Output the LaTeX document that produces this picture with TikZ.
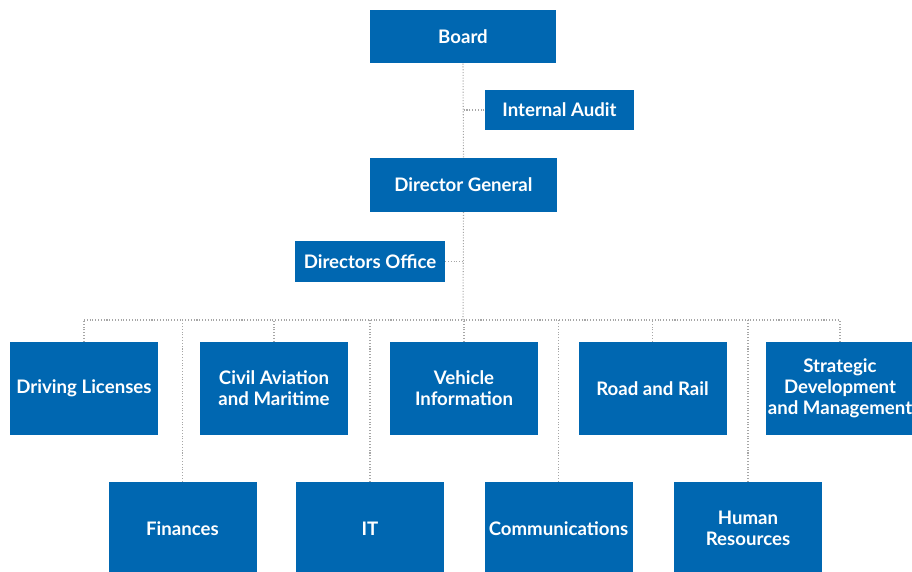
\documentclass[tikz,border=0pt]{standalone}
\usepackage{fontspec}
\setmainfont{Lato}
\usepackage{xcolor}
\usepackage{tikz}
\usetikzlibrary{
  positioning,
  calc
}

\definecolor{orgblue}{RGB}{0,103,177}

\begin{document}
\begin{tikzpicture}[
    font=\bfseries\fontsize{10.6}{12}\selectfont,
    unit/.style={fill=orgblue, text=white, inner sep=0pt,
                 align=center, minimum width=2.96cm, minimum height=1.86cm},
    head/.style={unit, minimum width=3.73cm, minimum height=1.07cm},
    staff/.style={unit, minimum width=2.99cm, minimum height=0.81cm},
    link/.style={densely dotted, gray!70, line width=0.6pt},
  ]

  \useasboundingbox (0,0) rectangle (18.24,-11.42);

  % Top of the chart
  \node[head] (board) at (9.26,-0.73) {Board};
  \node[staff] (audit) at (11.19,-2.20) {Internal Audit};
  \node[head] (dg) at (9.27,-3.70) {Director General};
  \node[staff] (office) at (7.40,-5.23) {Directors Office};

  % First row of departments
  \node[unit] (dl)  at (1.68,-7.77) {Driving Licenses};
  \node[unit] (cam) at (5.48,-7.77) {Civil Aviation\\and Maritime};
  \node[unit] (vi)  at (9.28,-7.77) {Vehicle\\Information};
  \node[unit] (rr)  at (13.05,-7.77) {Road and Rail};
  \node[unit] (sdm) at (16.80,-7.77) {Strategic\\Development\\and Management};

  % Second row of departments
  \node[unit] (fin) at (3.65,-10.57) {Finances};
  \node[unit] (it)  at (7.40,-10.57) {IT};
  \node[unit] (com) at (11.17,-10.57) {Communications};
  \node[unit] (hr)  at (14.96,-10.57) {Human\\Resources};

  % Dotted links
  \coordinate (bus) at (9.26,-6.40);
  \draw[link] (board.south) -- (dg.north);
  \draw[link] (dg.south) -- (bus);
  \draw[link] (audit.west) -- (audit.west -| board.south);
  \draw[link] (office.east) -- (office.east -| dg.south);
  \draw[link] (bus -| dl.north) -- (bus -| sdm.north);
  \foreach \n in {dl, cam, vi, rr, sdm, fin, it, com, hr} {
    \draw[link] (\n.north) -- (\n.north |- bus);
  }

\end{tikzpicture}
\end{document}
